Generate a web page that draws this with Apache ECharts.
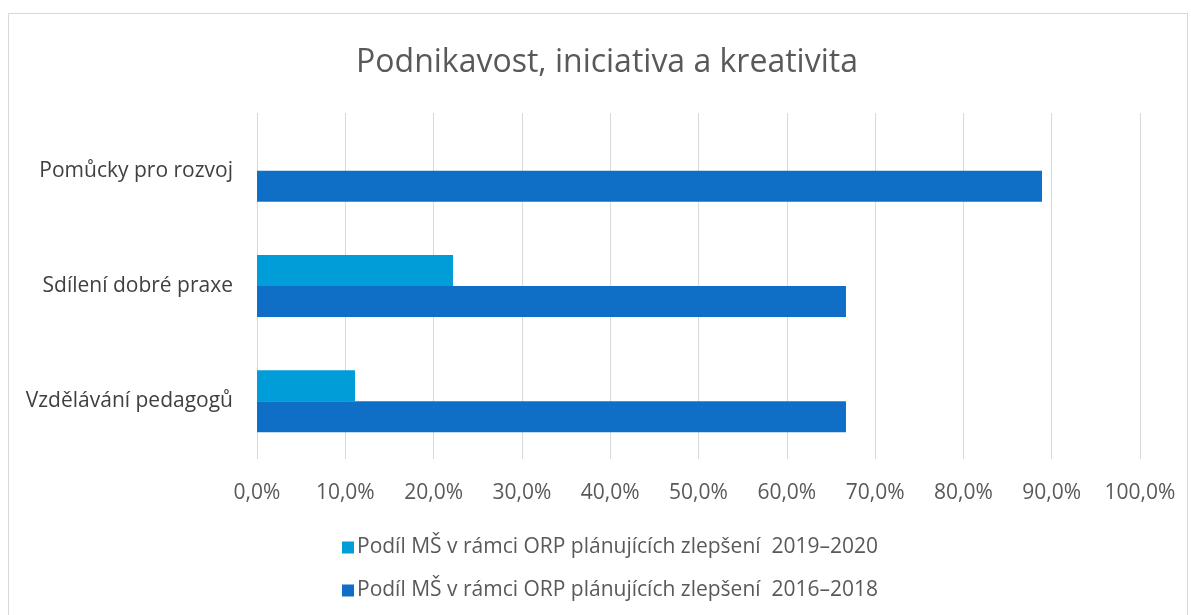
<!DOCTYPE html>
<html>
<head>
<meta charset="utf-8">
<script src="https://cdn.jsdelivr.net/npm/echarts@6/dist/echarts.min.js"></script>
<style>
  html, body { margin: 0; padding: 0; background: #fff; }
  #frame {
    position: absolute; left: 8px; top: 13px; width: 1180px; height: 640px;
    border: 1px solid #d9d9d9; box-sizing: border-box;
  }
  #chart { position: absolute; left: 0; top: 0; width: 1191px; height: 615px; }
</style>
</head>
<body>
<div id="frame"></div>
<div id="chart"></div>
<script>
const categories = ['Pomůcky pro rozvoj', 'Sdílení dobré praxe', 'Vzdělávání pedagogů'];
const seriesNames = [
  'Podíl MŠ v rámci ORP plánujících zlepšení  2019–2020',
  'Podíl MŠ v rámci ORP plánujících zlepšení  2016–2018'
];
const values2019 = [0, 22.2, 11.1];
const values2016 = [88.9, 66.7, 66.7];
const colors = ['#009dd9', '#0f6fc6'];

const chart = echarts.init(document.getElementById('chart'));
const font = 'Open Sans, Noto Sans, sans-serif';

const option = {
  backgroundColor: 'transparent',
  animation: false,
  color: colors,
  title: {
    text: 'Podnikavost, iniciativa a kreativita',
    left: 602,
    textAlign: 'center',
    top: 42,
    textStyle: { fontFamily: font, fontWeight: 'normal', fontSize: 32, color: '#595959' }
  },
  legend: {
    orient: 'vertical',
    left: 337,
    top: 532,
    itemWidth: 12,
    itemHeight: 12,
    itemGap: 22,
    icon: 'rect',
    textStyle: { fontFamily: font, fontSize: 21, color: '#595959', padding: [0, 0, 0, -2] },
    data: seriesNames
  },
  grid: { left: 257, right: 51, top: 113, bottom: 156 },
  xAxis: {
    type: 'value',
    min: 0,
    max: 100,
    interval: 10,
    axisLine: { show: false },
    axisTick: { show: false },
    splitLine: { lineStyle: { color: '#d9d9d9', width: 1 } },
    axisLabel: {
      fontFamily: font, fontSize: 21, color: '#595959', margin: 24,
      formatter: v => v.toFixed(1).replace('.', ',') + '%'
    }
  },
  yAxis: {
    type: 'category',
    inverse: true,
    data: categories,
    axisLine: { show: false },
    axisTick: { show: false },
    axisLabel: { fontFamily: font, fontSize: 21, color: '#404040', margin: 24 }
  },
  series: [
    {
      name: seriesNames[0], type: 'bar', data: values2019,
      barWidth: 31, barGap: '0%'
    },
    {
      name: seriesNames[1], type: 'bar', data: values2016,
      barWidth: 31, barGap: '0%'
    }
  ]
};

chart.setOption(option);
</script>
</body>
</html>
